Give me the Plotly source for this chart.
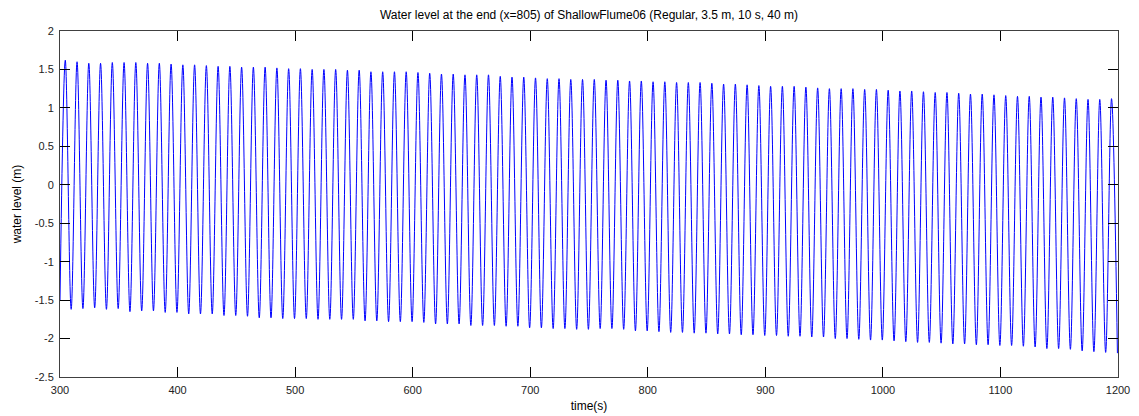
import plotly.graph_objects as go

# --- data ---
start_time = [300.0]
start_level = [-1.50]

crest_times = [
    304.5, 314.5, 324.5, 334.5, 344.5, 354.5, 364.5, 374.5, 384.5, 394.5,
    404.5, 414.5, 424.5, 434.5, 444.5, 454.5, 464.5, 474.5, 484.5, 494.5,
    504.5, 514.5, 524.5, 534.5, 544.5, 554.5, 564.5, 574.5, 584.5, 594.5,
    604.5, 614.5, 624.5, 634.5, 644.5, 654.5, 664.5, 674.5, 684.5, 694.5,
    704.5, 714.5, 724.5, 734.5, 744.5, 754.5, 764.5, 774.5, 784.5, 794.5,
    804.5, 814.5, 824.5, 834.5, 844.5, 854.5, 864.5, 874.5, 884.5, 894.5,
    904.5, 914.5, 924.5, 934.5, 944.5, 954.5, 964.5, 974.5, 984.5, 994.5,
    1004.5, 1014.5, 1024.5, 1034.5, 1044.5, 1054.5, 1064.5, 1074.5, 1084.5, 1094.5,
    1104.5, 1114.5, 1124.5, 1134.5, 1144.5, 1154.5, 1164.5, 1174.5, 1184.5, 1194.5,
]
crest_levels = [
    1.62, 1.60, 1.58, 1.58, 1.59, 1.59, 1.59, 1.58, 1.58, 1.57,
    1.56, 1.56, 1.55, 1.54, 1.54, 1.53, 1.53, 1.53, 1.52, 1.51,
    1.51, 1.50, 1.50, 1.50, 1.49, 1.49, 1.47, 1.47, 1.47, 1.47,
    1.46, 1.45, 1.44, 1.44, 1.43, 1.43, 1.43, 1.41, 1.40, 1.40,
    1.39, 1.38, 1.38, 1.37, 1.37, 1.37, 1.36, 1.36, 1.35, 1.35,
    1.34, 1.34, 1.33, 1.33, 1.33, 1.32, 1.31, 1.31, 1.30, 1.29,
    1.28, 1.28, 1.28, 1.27, 1.26, 1.25, 1.25, 1.25, 1.24, 1.24,
    1.23, 1.22, 1.22, 1.21, 1.20, 1.20, 1.19, 1.18, 1.18, 1.17,
    1.16, 1.15, 1.15, 1.14, 1.14, 1.13, 1.12, 1.11, 1.11, 1.12,
]
trough_times = [
    309.5, 319.5, 329.5, 339.5, 349.5, 359.5, 369.5, 379.5, 389.5, 399.5,
    409.5, 419.5, 429.5, 439.5, 449.5, 459.5, 469.5, 479.5, 489.5, 499.5,
    509.5, 519.5, 529.5, 539.5, 549.5, 559.5, 569.5, 579.5, 589.5, 599.5,
    609.5, 619.5, 629.5, 639.5, 649.5, 659.5, 669.5, 679.5, 689.5, 699.5,
    709.5, 719.5, 729.5, 739.5, 749.5, 759.5, 769.5, 779.5, 789.5, 799.5,
    809.5, 819.5, 829.5, 839.5, 849.5, 859.5, 869.5, 879.5, 889.5, 899.5,
    909.5, 919.5, 929.5, 939.5, 949.5, 959.5, 969.5, 979.5, 989.5, 999.5,
    1009.5, 1019.5, 1029.5, 1039.5, 1049.5, 1059.5, 1069.5, 1079.5, 1089.5, 1099.5,
    1109.5, 1119.5, 1129.5, 1139.5, 1149.5, 1159.5, 1169.5, 1179.5, 1189.5, 1199.5,
]
trough_levels = [
    -1.62, -1.61, -1.60, -1.62, -1.61, -1.65, -1.64, -1.64, -1.66, -1.66,
    -1.68, -1.68, -1.68, -1.70, -1.70, -1.71, -1.73, -1.73, -1.74, -1.74,
    -1.74, -1.75, -1.75, -1.75, -1.75, -1.77, -1.77, -1.78, -1.78, -1.78,
    -1.79, -1.81, -1.81, -1.81, -1.83, -1.83, -1.83, -1.84, -1.84, -1.86,
    -1.86, -1.87, -1.87, -1.88, -1.88, -1.87, -1.87, -1.88, -1.90, -1.90,
    -1.91, -1.92, -1.92, -1.93, -1.93, -1.94, -1.94, -1.95, -1.95, -1.96,
    -1.96, -1.97, -1.97, -1.98, -1.98, -2.00, -2.00, -2.01, -2.02, -2.02,
    -2.03, -2.04, -2.05, -2.05, -2.06, -2.07, -2.07, -2.08, -2.08, -2.09,
    -2.09, -2.10, -2.11, -2.13, -2.13, -2.14, -2.16, -2.17, -2.18, -2.19,
]

x_ticks = [300, 400, 500, 600, 700, 800, 900, 1000, 1100, 1200]
y_ticks = [-2.5, -2, -1.5, -1, -0.5, 0, 0.5, 1, 1.5, 2]
y_tick_labels = ["-2.5", "-2", "-1.5", "-1", "-0.5", "0", "0.5", "1", "1.5", "2"]

# --- assemble the time series (crest, trough, crest, ...) ---
t = list(start_time)
h = list(start_level)
for ct, cl, tt, tl in zip(crest_times, crest_levels, trough_times, trough_levels):
    t += [ct, tt]
    h += [cl, tl]

FONT = "Liberation Sans, Arial, Helvetica, sans-serif"

# page body has an 8 px margin, so the figure is drawn offset by (8, 8)
W, H = 1131, 408

fig = go.Figure()
fig.add_trace(go.Scatter(
    x=t, y=h, mode="lines",
    line=dict(color="#0000ff", width=1, shape="spline", smoothing=1),
    showlegend=False, hoverinfo="skip",
))

axis_common = dict(
    showgrid=False, zeroline=False, showline=True, linecolor="#404040", linewidth=1,
    mirror="ticks", ticks="inside", ticklen=10, tickwidth=1, tickcolor="#000000",
    tickfont=dict(family=FONT, size=11, color="#222222"),
)

fig.update_layout(
    width=W, height=H,
    paper_bgcolor="white", plot_bgcolor="white",
    margin=dict(l=52, r=21, t=23, b=39, autoexpand=False),
    title=dict(
        text="Water level at the end (x=805) of ShallowFlume06 (Regular, 3.5 m, 10 s, 40 m)",
        font=dict(family=FONT, size=12, color="#000000"),
        x=0.5, xref="paper", xanchor="center", y=1 - 7 / H, yref="container", yanchor="middle",
    ),
    xaxis=dict(
        range=[300, 1200], tickvals=x_ticks, ticktext=[str(v) for v in x_ticks],
        title=dict(text="time(s)", font=dict(family=FONT, size=12, color="#000000"), standoff=6),
        ticklabelstandoff=3,
        **axis_common,
    ),
    yaxis=dict(
        range=[-2.5, 2], tickvals=y_ticks, ticktext=y_tick_labels,
        title=dict(text="water level (m)", font=dict(family=FONT, size=12, color="#000000"), standoff=10),
        ticklabelstandoff=3,
        **axis_common,
    ),
)

fig.write_html("out.html")
